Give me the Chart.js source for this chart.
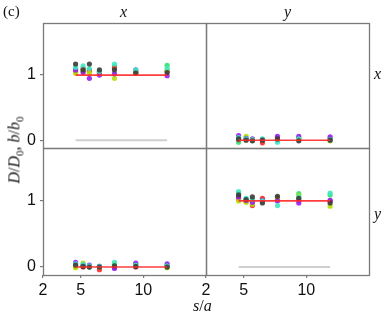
<!DOCTYPE html>
<html><head><meta charset="utf-8">
<script src="https://cdn.jsdelivr.net/npm/chart.js@4/dist/chart.umd.min.js"></script>
<style>
html,body{margin:0;padding:0;background:#fff;}
#wrap{position:relative;width:390px;height:319px;overflow:hidden;background:#fff;}
canvas{position:absolute;left:0;top:0;}
.t{position:absolute;font-family:"Liberation Serif","DejaVu Serif",serif;font-size:16px;color:#111;white-space:nowrap;line-height:1;}
.i{font-style:italic;}
</style></head>
<body><div id="wrap">
<canvas id="c0" width="390" height="319"></canvas>
<canvas id="c1" width="390" height="319"></canvas>
<canvas id="c2" width="390" height="319"></canvas>
<canvas id="c3" width="390" height="319"></canvas>
<div class="t" style="left:3px;top:4px;font-size:15px;">(c)</div>
<div class="t i" style="left:120px;top:4px;">x</div>
<div class="t i" style="left:284px;top:4px;">y</div>
<div class="t i" style="left:374px;top:66px;">x</div>
<div class="t i" style="left:374px;top:206px;">y</div>
<div class="t" style="left:193px;top:298px;"><i>s</i>/<i>a</i></div>
<div class="t" style="left:16px;top:150px;transform:translate(-50%,-50%) rotate(-90deg);"><i>D</i>/<i>D</i><sub style="font-size:11px;">0</sub>, <i>b</i>/<i>b</i><sub style="font-size:11px;">0</sub></div>
</div>
<script>
// ---- data ----
const sVals = [4.6, 5.2, 5.7, 6.5, 7.7, 9.4, 11.9];
const xTicks = [2, 5, 10];
const yTicks = [0, 1];
const seriesNames = ['dark', 'aqua', 'purple', 'lime', 'red', 'green'];
const seriesColors = ['rgba(60,60,60,0.9)', 'rgba(64,232,192,0.9)', 'rgba(150,30,240,0.9)', 'rgba(180,224,0,0.9)', 'rgba(255,40,40,0.9)', 'rgba(48,224,112,0.9)'];

// panel x-x (top left)
const xxDark   = [1.17, 1.08, 1.17, 1.08, 1.08, 1.03, 1.04];
const xxAqua   = [1.12, 1.14, 1.10, 1.06, 1.17, 1.08, 1.10];
const xxPurple = [1.08, 1.04, 0.95, 1.00, 1.02, 1.08, 0.99];
const xxLime   = [1.03, 1.06, 1.03, 1.06, 0.95, 1.05, 1.07];
const xxRed    = [1.05, 1.10, 1.06, 1.03, 1.11, 1.04, 1.06];
const xxGreen  = [1.10, 1.07, 1.08, 1.04, 1.13, 1.06, 1.15];
// panel y-x (top right)
const yxDark   = [0.02, 0.00, -0.01, 0.00, 0.02, -0.01, 0.00];
const yxAqua   = [0.04, 0.02, 0.01, 0.02, -0.03, 0.02, 0.01];
const yxPurple = [0.07, 0.03, 0.02, 0.01, 0.06, 0.06, 0.05];
const yxLime   = [0.03, 0.06, 0.00, 0.01, 0.03, 0.02, -0.01];
const yxRed    = [0.01, 0.01, 0.01, -0.04, 0.01, 0.01, 0.01];
const yxGreen  = [-0.03, 0.02, 0.00, 0.00, 0.00, 0.03, 0.02];
// panel x-y (bottom left)
const xyDark   = [0.03, 0.01, 0.00, 0.00, 0.02, 0.01, 0.00];
const xyAqua   = [0.05, 0.04, 0.02, 0.01, 0.07, 0.03, 0.02];
const xyPurple = [0.07, 0.03, 0.03, 0.01, -0.02, 0.06, 0.05];
const xyLime   = [-0.01, 0.06, 0.01, 0.00, 0.05, 0.02, -0.01];
const xyRed    = [0.01, 0.00, 0.01, -0.04, 0.00, 0.00, 0.01];
const xyGreen  = [0.02, 0.02, 0.00, 0.01, 0.03, 0.04, 0.03];
// panel y-y (bottom right)
const yyDark   = [1.09, 1.02, 1.06, 0.97, 1.07, 1.04, 0.97];
const yyAqua   = [1.14, 1.04, 1.02, 1.00, 0.93, 1.06, 1.12];
const yyPurple = [1.06, 1.01, 0.98, 1.01, 1.00, 0.97, 1.01];
const yyLime   = [1.00, 0.98, 0.95, 0.99, 1.02, 1.08, 0.92];
const yyRed    = [1.03, 0.99, 0.93, 1.04, 1.03, 1.01, 1.00];
const yyGreen  = [1.11, 1.03, 1.00, 1.02, 1.05, 1.11, 1.09];

const refLevelTL = 1, refLevelTR = 0, refLevelBL = 0, refLevelBR = 1;  // red reference lines
const grayLevelTL = 0, grayLevelBR = 0;                                 // gray lines

// ---- layout ----
const L = 43, M = 206, R = 369, T = 23, MID = 148, B = 275, W = 390, H = 319;
const AXC = '#7a7a7a';

const framePlugin = {
  id: 'frame',
  afterDraw(chart) {
    const a = chart.chartArea, ctx = chart.ctx;
    ctx.save();
    ctx.strokeStyle = AXC; ctx.lineWidth = 1.3;
    ctx.strokeRect(a.left + 0.5, a.top + 0.5, a.right - a.left, a.bottom - a.top);
    ctx.restore();
  }
};

function makePanel(id, series, left, right, top, bottom, showX, showY, redLevel, grayLevel) {
  const datasets = [];
  if (grayLevel !== null) {
    datasets.push({type: 'line', data: [{x: sVals[0], y: grayLevel}, {x: sVals[sVals.length - 1], y: grayLevel}],
      borderColor: '#cfcfcf', borderWidth: 2, pointRadius: 0, order: 3});
  }
  series.forEach((vals, k) => {
    datasets.push({type: 'scatter', label: seriesNames[k],
      data: sVals.map((s, i) => ({x: s, y: vals[i]})),
      backgroundColor: seriesColors[k], borderWidth: 0, pointRadius: 2.6, order: 2});
  });
  datasets.push({type: 'line', data: [{x: sVals[0], y: redLevel}, {x: sVals[sVals.length - 1], y: redLevel}],
    borderColor: 'rgba(255,40,40,0.9)', borderWidth: 1.6, pointRadius: 0, order: 1});

  new Chart(document.getElementById(id), {
    type: 'scatter',
    data: {datasets},
    options: {
      responsive: false, animation: false, devicePixelRatio: 1,
      layout: {padding: {left: 0, top: top, right: W - right, bottom: 0}},
      plugins: {legend: {display: false}, tooltip: {enabled: false}},
      scales: {
        x: {type: 'linear', min: 2, max: 15,
          afterBuildTicks: s => { s.ticks = xTicks.map(v => ({value: v})); },
          afterFit: s => { s.height = H - bottom; },
          border: {display: false},
          grid: {display: showX, drawOnChartArea: false, tickLength: 3, color: AXC, lineWidth: 1.2},
          ticks: {display: showX, padding: 3, color: '#111', font: {family: 'Liberation Sans', size: 16}}
        },
        y: {type: 'linear', min: -0.12, max: 1.8,
          afterBuildTicks: s => { s.ticks = yTicks.map(v => ({value: v})); },
          afterFit: s => { s.width = left; },
          border: {display: false},
          grid: {display: showY, drawOnChartArea: false, tickLength: 3, color: AXC, lineWidth: 1.2},
          ticks: {display: showY, padding: 4, color: '#111', font: {family: 'Liberation Sans', size: 16}}
        }
      }
    },
    plugins: [framePlugin]
  });
}

makePanel('c0', [xxDark, xxAqua, xxPurple, xxLime, xxRed, xxGreen], L, M, T, MID, false, true, refLevelTL, grayLevelTL);
makePanel('c1', [yxDark, yxAqua, yxPurple, yxLime, yxRed, yxGreen], M, R, T, MID, false, false, refLevelTR, null);
makePanel('c2', [xyDark, xyAqua, xyPurple, xyLime, xyRed, xyGreen], L, M, MID, B, true, true, refLevelBL, null);
makePanel('c3', [yyDark, yyAqua, yyPurple, yyLime, yyRed, yyGreen], M, R, MID, B, true, false, refLevelBR, grayLevelBR);
</script>
</body></html>
